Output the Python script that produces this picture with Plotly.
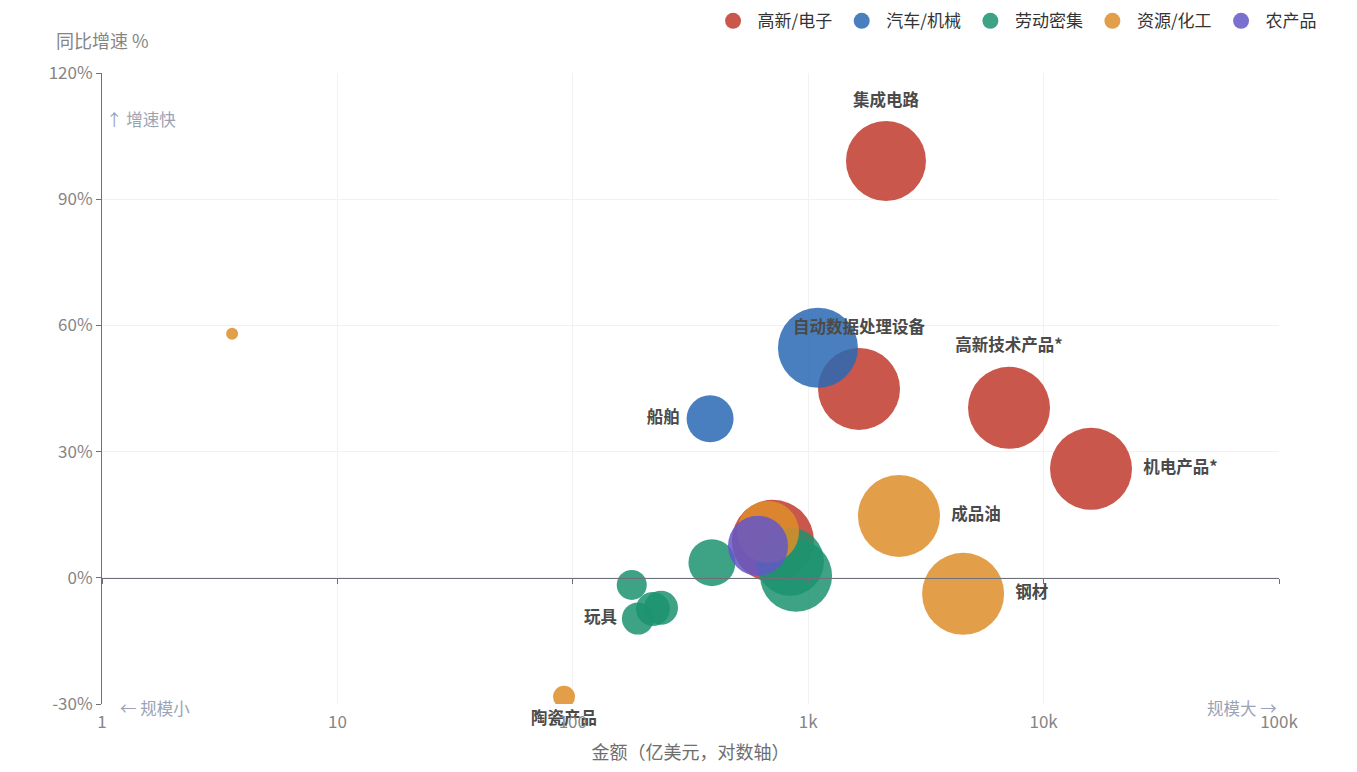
import plotly.graph_objects as go

# categories and colours
groups = ['高新/电子', '汽车/机械', '劳动密集', '资源/化工', '农产品']
group_colors = ['#c0392b', '#2a69b4', '#1c936f', '#de8d29', '#6357c8']

# one entry per product: group index, amount (亿美元), yoy growth %, bubble size, label
prod_group = [0, 0, 0, 0, 0,
              1, 1,
              2, 2, 2, 2, 2, 2, 2,
              3, 3, 3, 3, 3,
              4]
prod_amount = [2140, 1644, 7130, 15900, 708,
               1100, 383,
               178, 189, 219, 237, 390, 837, 888,
               2430, 4550, 3.57, 91.8, 675,
               612]
prod_growth = [99.1, 44.9, 40.4, 25.9, 8.8,
               54.7, 37.8,
               -1.7, -9.7, -7.4, -7.1, 3.6, 3.8, 0.5,
               14.7, -3.8, 58.0, -28.3, 10.9,
               7.6]
prod_size = [80, 82, 82, 82, 82,
             80, 47,
             30, 32, 34, 34, 47, 68, 72,
             82, 82, 12, 22, 62,
             60]
prod_label = ['集成电路', '自动数据处理设备', '高新技术产品*', '机电产品*', '',
              '', '船舶',
              '', '玩具', '', '', '', '', '',
              '成品油', '钢材', '', '陶瓷产品', '',
              '']
label_pos = ['top center', 'top center', 'top center', 'middle right', 'top center',
             'top center', 'middle left',
             'top center', 'middle left', 'top center', 'top center', 'top center', 'top center', 'top center',
             'middle right', 'middle right', 'top center', 'bottom center', 'top center',
             'top center']

x_ticks = [1, 10, 100, 1000, 10000, 100000]
x_tick_text = ['1', '10', '100', '1k', '10k', '100k']
y_ticks = [-30, 0, 30, 60, 90, 120]
y_tick_text = ['-30%', '0%', '30%', '60%', '90%', '120%']

FONT = 'Noto Sans CJK SC, Microsoft YaHei, sans-serif'
AXIS_GREY = '#6e7079'
TICK_GREY = '#858585'
HINT = '#9aa3b5'

fig = go.Figure()

for g, name in enumerate(groups):
    idx = [i for i, pg in enumerate(prod_group) if pg == g]
    fig.add_trace(go.Scatter(
        x=[prod_amount[i] for i in idx],
        y=[prod_growth[i] for i in idx],
        mode='markers',
        name=name,
        showlegend=False,
        marker=dict(size=[prod_size[i] for i in idx], color=group_colors[g],
                    opacity=0.85, line=dict(width=0)),
        hovertemplate=name + '<br>%{x}亿美元<br>%{y}%<extra></extra>',
    ))

# labels drawn last so they sit above every bubble
fig.add_trace(go.Scatter(
    x=prod_amount, y=prod_growth, mode='markers+text',
    text=prod_label, textposition=label_pos,
    textfont=dict(size=16.5, color='#4a4a4a', family=FONT, weight='bold'),
    marker=dict(size=prod_size, opacity=0),
    cliponaxis=False, showlegend=False, hoverinfo='skip',
))

# legend-only entries
for g, name in enumerate(groups):
    fig.add_trace(go.Scatter(
        x=[None], y=[None], mode='markers', name=name,
        marker=dict(size=16, color=group_colors[g], opacity=0.85),
    ))

# ticks sitting on the zero line
fig.add_trace(go.Scatter(x=[None], y=[None], xaxis='x2', showlegend=False, hoverinfo='skip'))

# page body adds an 8px margin, so the figure is a little smaller than the window
fig.update_layout(
    width=1341, height=756,
    margin=dict(l=94, r=70, t=65, b=60, autoexpand=False),
    paper_bgcolor='white', plot_bgcolor='white',
    font=dict(family=FONT, size=16, color=AXIS_GREY),
    showlegend=True,
    legend=dict(orientation='h', x=1.037, xanchor='right', y=1.082, yanchor='middle',
                font=dict(size=17, color='#333'), itemsizing='trace', itemwidth=39,
                bgcolor='rgba(0,0,0,0)'),
    xaxis=dict(type='log', range=[0, 5], tickvals=x_ticks, ticktext=x_tick_text,
               showgrid=True, gridcolor='#f2f2f2', zeroline=False, showline=False,
               ticks='', ticklabelstandoff=6, tickfont=dict(size=17, color=TICK_GREY),
               title=dict(text='金额（亿美元，对数轴）', font=dict(size=18, color='#6e6e6e'), standoff=16)),
    xaxis2=dict(type='log', range=[0, 5], overlaying='x', anchor='free', position=0.2,
                tickvals=x_ticks, showticklabels=False, showgrid=False, zeroline=False,
                showline=True, linecolor=AXIS_GREY, linewidth=1,
                ticks='outside', ticklen=5, tickcolor=AXIS_GREY),
    yaxis=dict(range=[-30, 120], tickvals=y_ticks, ticktext=y_tick_text,
               showgrid=True, gridcolor='#f2f2f2', zeroline=False,
               showline=True, linecolor=AXIS_GREY, linewidth=1,
               ticks='outside', ticklen=5, tickcolor=AXIS_GREY,
               tickfont=dict(size=17, color=TICK_GREY)),
    annotations=[
        dict(text='同比增速 %', xref='paper', yref='paper', x=0, y=1.052,
             xanchor='center', yanchor='middle', showarrow=False,
             font=dict(size=18, color=TICK_GREY)),
        dict(text='↑ 增速快', xref='paper', yref='paper', x=0.002, y=0.927,
             xanchor='left', yanchor='middle', showarrow=False,
             font=dict(size=16.5, color=HINT)),
        dict(text='← 规模小', xref='paper', yref='paper', x=0.0136, y=-0.006,
             xanchor='left', yanchor='middle', showarrow=False,
             font=dict(size=16.5, color=HINT)),
        dict(text='规模大 →', xref='paper', yref='paper', x=1.0, y=-0.006,
             xanchor='right', yanchor='middle', showarrow=False,
             font=dict(size=16.5, color=HINT)),
    ],
)

fig.write_html('out.html')
